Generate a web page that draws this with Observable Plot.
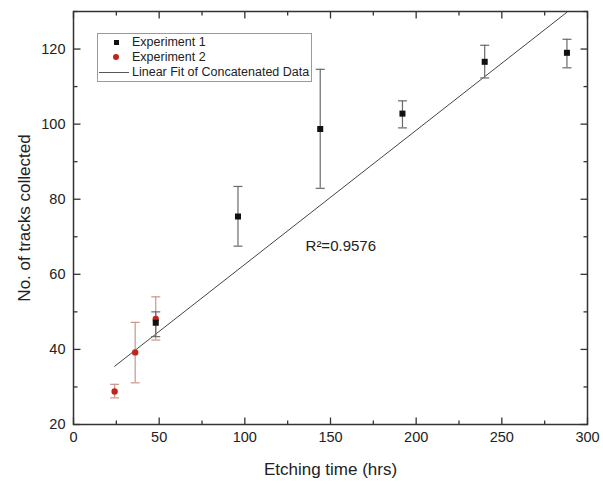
<!DOCTYPE html>
<html><head><meta charset="utf-8">
<script src="https://cdn.jsdelivr.net/npm/d3@7"></script>
<script src="https://cdn.jsdelivr.net/npm/@observablehq/plot@0.6"></script>
<style>
body{margin:0;background:#fff;font-family:"Liberation Sans",Arial,sans-serif;}
#wrap{position:relative;width:603px;height:487px;}
svg [aria-label="y-axis label"], svg [aria-label="x-axis label"]{font-size:17px;}
#legend{position:absolute;left:97px;top:33px;width:215px;height:49px;border:1px solid #9a9a9a;background:#fff;font-size:12.5px;color:#222;box-sizing:border-box;padding-top:1px;}
.row{position:relative;height:15px;line-height:15px;padding-left:34px;}
.sym{position:absolute;}
</style></head>
<body><div id="wrap"></div>
<script>
const exp1X = [48, 96, 144, 192, 240, 288];
const exp1Y = [47.1, 75.4, 98.7, 102.8, 116.6, 119.0];
const exp1Lo = [43.4, 67.5, 82.9, 99.0, 112.3, 115.0];
const exp1Hi = [50.0, 83.4, 114.6, 106.2, 121.0, 122.6];
const exp2X = [24, 36, 48];
const exp2Y = [28.8, 39.2, 48.1];
const exp2Lo = [27.1, 31.1, 42.5];
const exp2Hi = [30.7, 47.2, 54.0];
const fitX = [24, 288];
const fitY = [35.5, 129.8];
const xMajor = [0, 50, 100, 150, 200, 250, 300];
const xMinor = [25, 75, 125, 175, 225, 275];
const yMajor = [20, 40, 60, 80, 100, 120];
const yMinor = [30, 50, 70, 90, 110, 130];
const r2Label = ["R²=0.9576"];
const r2Pos = [{x: 156, y: 67.5}];
const seriesNames = ["Experiment 1", "Experiment 2", "Linear Fit of Concatenated Data"];

const e1 = exp1X.map((x,i)=>({x, y:exp1Y[i], lo:exp1Lo[i], hi:exp1Hi[i]}));
const e2 = exp2X.map((x,i)=>({x, y:exp2Y[i], lo:exp2Lo[i], hi:exp2Hi[i]}));
const fit = fitX.map((x,i)=>({x, y:fitY[i]}));
const cap = {draw(ctx){ ctx.moveTo(-4.5,0); ctx.lineTo(4.5,0); }};
const tk = (dx, dy) => ({draw(ctx){ ctx.moveTo(0,0); ctx.lineTo(dx,dy); }});

const red = "#c0241c";
const tickStyle = {stroke: "#333", strokeWidth: 1.3};
const plot = Plot.plot({
  width: 603, height: 487,
  marginLeft: 73, marginRight: 16, marginTop: 11, marginBottom: 63,
  style: {fontFamily: '"Liberation Sans", Arial, sans-serif', fontSize: "14.5px", color: "#222"},
  x: {domain: [0, 300]},
  y: {domain: [20, 130]},
  marks: [
    Plot.axisX(xMajor, {tickSize: 0, tickPadding: 7, label: "Etching time (hrs)", labelAnchor: "center", labelArrow: "none", labelOffset: 50}),
    Plot.axisY(yMajor, {tickSize: 0, tickPadding: 8, label: "No. of tracks collected", labelAnchor: "center", labelArrow: "none", labelOffset: 56}),
    Plot.dot(xMajor, {x: d => d, frameAnchor: "bottom", symbol: tk(0, -7), ...tickStyle}),
    Plot.dot(xMinor, {x: d => d, frameAnchor: "bottom", symbol: tk(0, -4), ...tickStyle}),
    Plot.dot(xMajor, {x: d => d, frameAnchor: "top", symbol: tk(0, 7), ...tickStyle}),
    Plot.dot(xMinor, {x: d => d, frameAnchor: "top", symbol: tk(0, 4), ...tickStyle}),
    Plot.dot(yMajor, {y: d => d, frameAnchor: "left", symbol: tk(7, 0), ...tickStyle}),
    Plot.dot(yMinor, {y: d => d, frameAnchor: "left", symbol: tk(4, 0), ...tickStyle}),
    Plot.dot(yMajor, {y: d => d, frameAnchor: "right", symbol: tk(-7, 0), ...tickStyle}),
    Plot.dot(yMinor, {y: d => d, frameAnchor: "right", symbol: tk(-4, 0), ...tickStyle}),
    Plot.line(fit, {x: "x", y: "y", stroke: "#444", strokeWidth: 1, clip: true}),
    Plot.ruleX(e2, {x: "x", y1: "lo", y2: "hi", stroke: "#c9968a", strokeWidth: 1.2}),
    Plot.dot(e2, {x: "x", y: "lo", symbol: cap, stroke: "#c9968a", strokeWidth: 1.2}),
    Plot.dot(e2, {x: "x", y: "hi", symbol: cap, stroke: "#c9968a", strokeWidth: 1.2}),
    Plot.ruleX(e1, {x: "x", y1: "lo", y2: "hi", stroke: "#6a6a6a", strokeWidth: 1.2}),
    Plot.dot(e1, {x: "x", y: "lo", symbol: cap, stroke: "#6a6a6a", strokeWidth: 1.2}),
    Plot.dot(e1, {x: "x", y: "hi", symbol: cap, stroke: "#6a6a6a", strokeWidth: 1.2}),
    Plot.dot(e2, {x: "x", y: "y", r: 3.2, fill: red, symbol: "circle"}),
    Plot.dot(e1, {x: "x", y: "y", r: 3.4, fill: "#111", symbol: "square"}),
    Plot.text(r2Pos, {x: "x", y: "y", text: () => r2Label[0], fontSize: 15, fill: "#222"}),
    Plot.frame({stroke: "#333", strokeWidth: 1.5})
  ]
});
const wrap = document.getElementById("wrap");
wrap.appendChild(plot);
const lg = document.createElement("div");
lg.id = "legend";
lg.innerHTML = `
<div class="row"><span class="sym" style="left:16px;top:5px;width:5px;height:5px;background:#111"></span>${seriesNames[0]}</div>
<div class="row"><span class="sym" style="left:15px;top:4px;width:6px;height:6px;border-radius:50%;background:${red}"></span>${seriesNames[1]}</div>
<div class="row"><span class="sym" style="left:1px;top:7px;width:30px;height:1px;background:#555"></span>${seriesNames[2]}</div>`;
wrap.appendChild(lg);
</script></body></html>
